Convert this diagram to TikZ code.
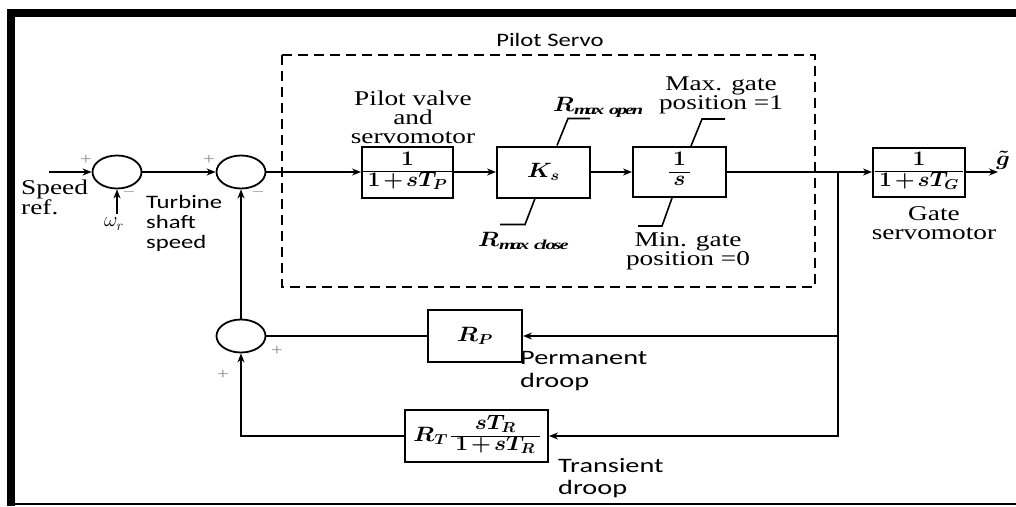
\documentclass[tikz,border=0pt]{standalone}
\usepackage{fontspec}
\usepackage{amsmath}
\usepackage{graphicx}
\usetikzlibrary{shapes.geometric,arrows.meta,calc}
\setmainfont{Liberation Serif}[FakeStretch=1.3]
\newfontfamily\sansf{Carlito}[FakeStretch=1.3]
\newfontfamily\sansw{Carlito}[FakeStretch=1.38]
\newcommand{\mx}[1]{{\boldmath\scalebox{1.15}[1]{$#1$}}}
\newcommand{\fr}[2]{{\boldmath\scalebox{1.1}[1]{\renewcommand{\arraystretch}{0.95}\setlength{\arrayrulewidth}{1pt}$\begin{array}{@{\,}c@{\,}}#1\\\hline #2\end{array}$}}}
\newcommand{\pl}{\mkern2mu{+}\mkern2mu}
\begin{document}
\begin{tikzpicture}[x=1pt,y=-1pt,
  sumn/.style={ellipse, draw, line width=1.8pt, minimum width=49pt, minimum height=33pt, inner sep=0pt},
  blk/.style={rectangle, draw, line width=2pt, inner sep=0pt, font=\fontsize{21}{21}\selectfont},
  fblk/.style={rectangle, draw, line width=2pt, inner sep=0pt, font=\fontsize{20}{20}\selectfont},
  conn/.style={line width=1.6pt, -{Stealth[length=9pt,width=7pt]}},
  plain/.style={line width=1.6pt},
  limit/.style={line width=1.6pt},
  sgn/.style={text=black!45, font=\fontsize{16}{16}\selectfont, inner sep=0pt},
  serl/.style={font=\fontsize{21}{19}\selectfont, align=center, inner sep=0pt},
  sanl/.style={font=\sansf\fontsize{19}{20}\selectfont, inner sep=0pt},
  sanw/.style={font=\sansw\fontsize{20.5}{22.5}\selectfont, inner sep=0pt, align=left},
  rlab/.style={font=\fontsize{19.5}{19.5}\selectfont, inner sep=0pt, anchor=west},
  dbox/.style={line width=2.2pt, dash pattern=on 10pt off 6pt}
]
\useasboundingbox (0,0) rectangle (1016,506);
% frame
\draw[line width=8pt] (11,506) -- (11,13) -- (1016,13);
\draw[line width=2.5pt] (7,504) -- (1016,504);

% pilot servo dashed box
\draw[dbox] (282,55) rectangle (815,287);
\node[sanl] (pstitle) at (550,40) {Pilot Servo};

% summing junctions
\node[sumn] (sum1) at (117,172) {};
\node[sumn] (sum2) at (241,172) {};
\node[sumn] (sum3) at (241,336) {};

% blocks
\node[fblk, minimum width=91pt, minimum height=51pt] (blk1) at (407.5,172) {\fr{1}{1\pl sT_P}};
\node[blk, minimum width=93pt, minimum height=51pt] (blk2) at (543.5,172) {\mx{K_s}};
\node[fblk, minimum width=93pt, minimum height=50pt] (blk3) at (679.5,172) {\fr{1}{s}};
\node[fblk, minimum width=92pt, minimum height=49pt] (gate) at (919,172) {\fr{1}{1\pl sT_G}};
\node[blk, minimum width=94pt, minimum height=52pt] (rp) at (475,336) {\mx{R_P}};
\node[fblk, minimum width=143pt, minimum height=52pt] (rt) at (476.5,436) {{\fontsize{21}{21}\selectfont\mx{R_T}}\hspace{3pt}\fr{sT_R}{1\pl sT_R}};

% free ends
\coordinate (in) at (49,172);
\coordinate (om) at (117,214);
\coordinate (br) at (838,172);
\coordinate (out) at (998,172);

% connectors
\draw[conn] (in) -- (sum1.west);
\draw[conn] (om) -- (sum1.south);
\draw[conn] (sum1.east) -- (sum2.west);
\draw[conn] (sum2.east) -- (blk1.west);
\draw[conn] (blk1.east) -- (blk2.west);
\draw[conn] (blk2.east) -- (blk3.west);
\draw[conn] (blk3.east) -- (gate.west);
\draw[conn] (gate.east) -- (out);
\draw[conn] (br) |- (rp.east);
\draw[conn] (br) |- (rt.east);
\draw[plain] (rp.west) -- (sum3.east);
\draw[conn] (rt.west) -| (sum3.south);
\draw[conn] (sum3.north) -- (sum2.south);

% limiter lines
\draw[limit] ([xshift=13.5pt]blk2.north) -- ++(11,-27) -- ++(22,0);
\draw[limit] ([xshift=-8.5pt]blk2.south) -- ++(-10,26) -- ++(-25,0);
\draw[limit] ([xshift=11.5pt]blk3.north) -- ++(11,-27) -- ++(23,0);
\draw[limit] ([xshift=-7.5pt]blk3.south) -- ++(-10,28) -- ++(-24,0);

% signs
\node[sgn] (p1) at (86,160) {+};
\node[sgn] (m1) at (129,192) {$-$};
\node[sgn] (p2) at (209,160) {+};
\node[sgn] (m2) at (258,192) {$-$};
\node[sgn] (p3) at (277,351) {+};
\node[sgn] (p4) at (223,375) {+};

% labels
\node[serl, anchor=west, align=left] (spd) at (21,197) {Speed\\ref.};
\node[serl] (omr) at (114,224) {$\omega_r$};
\node[sanl, anchor=west, align=left] (tss) at (146,223) {Turbine\\shaft\\speed};
\node[serl] (pvs) at (413,117) {Pilot valve\\and\\servomotor};
\node[rlab] (rmo) at (553,107) {\mx{R_{\mathit{max\ open}}}};
\node[rlab] (rmc) at (478,241) {\mx{R_{\mathit{max\ close}}}};
\node[serl] (maxg) at (721,95) {Max. gate\\position =1};
\node[serl] (ming) at (688,251) {Min. gate\\position =0};
\node[serl] (gsm) at (934,223) {Gate\\servomotor};
\node[inner sep=0pt, font=\fontsize{21}{21}\selectfont] (gt) at (1003,160) {\mx{\tilde{g}}};
\node[sanw, anchor=west] (pdr) at (520,371) {Permanent\\droop};
\node[sanw, anchor=west] (tdr) at (558,478) {Transient\\droop};
\end{tikzpicture}
\end{document}
